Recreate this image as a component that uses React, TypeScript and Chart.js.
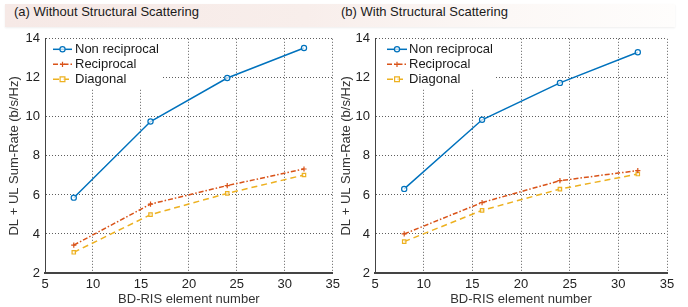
import React, { useEffect, useRef } from "react";
import { Chart, registerables } from "chart.js";
Chart.register(...registerables);

// ---- data ----
const elementNumbers = [8, 16, 24, 32];
const xRange = [5, 35];
const yRange = [2, 14];
const seriesLabels = ["Non reciprocal", "Reciprocal", "Diagonal"];
const panelTitles = ["(a) Without Structural Scattering", "(b) With Structural Scattering"];
const xAxisTitle = "BD-RIS element number";
const yAxisTitle = "DL + UL Sum-Rate (b/s/Hz)";

const nonReciprocalA = [5.86, 9.76, 11.99, 13.53];
const reciprocalA = [3.43, 5.53, 6.48, 7.33];
const diagonalA = [3.06, 4.99, 6.08, 7.02];

const nonReciprocalB = [6.31, 9.85, 11.74, 13.31];
const reciprocalB = [4.0, 5.61, 6.73, 7.25];
const diagonalB = [3.61, 5.21, 6.3, 7.07];

const FONT = "'Liberation Sans', Arial, Helvetica, sans-serif";
const COLORS = ["#0072BD", "#D95319", "#EDB120"];
const GRID = "rgba(40,40,40,0.75)";

const insideLegend = {
  id: "insideLegend",
  afterDraw(chart: any, _args: any, opts: any) {
    const { ctx, chartArea } = chart;
    ctx.save();
    ctx.fillStyle = "#ffffff";
    ctx.fillRect(chartArea.left + 1, chartArea.top + 1, opts.boxWidth, opts.boxHeight);
    chart.data.datasets.forEach((ds: any, i: number) => {
      const y = chartArea.top + 10 + i * 15 + 0.5;
      const lx0 = chartArea.left + opts.lineStart;
      const lx1 = lx0 + opts.lineLen;
      ctx.strokeStyle = ds.borderColor;
      ctx.lineWidth = ds.borderWidth;
      ctx.setLineDash(ds.borderDash || []);
      ctx.beginPath();
      ctx.moveTo(lx0, y);
      ctx.lineTo(lx1, y);
      ctx.stroke();
      ctx.setLineDash([]);
      const mx = (lx0 + lx1) / 2;
      const r = ds.pointRadius;
      ctx.lineWidth = ds.pointBorderWidth;
      ctx.beginPath();
      if (ds.pointStyle === "circle") {
        ctx.fillStyle = ds.pointBackgroundColor;
        ctx.arc(mx, y, r, 0, Math.PI * 2);
        ctx.fill();
        ctx.stroke();
      } else if (ds.pointStyle === "cross") {
        ctx.moveTo(mx - r, y);
        ctx.lineTo(mx + r, y);
        ctx.moveTo(mx, y - r);
        ctx.lineTo(mx, y + r);
        ctx.stroke();
      } else {
        ctx.fillStyle = ds.pointBackgroundColor;
        ctx.rect(mx - r, y - r, 2 * r, 2 * r);
        ctx.fill();
        ctx.stroke();
      }
      ctx.fillStyle = "#1a1a1a";
      ctx.font = `13px ${FONT}`;
      ctx.textBaseline = "middle";
      ctx.textAlign = "left";
      ctx.fillText(ds.label, chartArea.left + opts.textX, y);
    });
    ctx.restore();
  },
};

function makeDatasets(a: number[], b: number[], c: number[]) {
  const pts = (vals: number[]) => elementNumbers.map((x, i) => ({ x, y: vals[i] }));
  return [
    {
      label: seriesLabels[0],
      data: pts(a),
      borderColor: COLORS[0],
      backgroundColor: COLORS[0],
      borderWidth: 1.5,
      borderDash: [],
      pointStyle: "circle",
      pointRadius: 2.6,
      pointBorderWidth: 1.2,
      pointBorderColor: COLORS[0],
      pointBackgroundColor: "rgba(255,255,255,0.7)",
    },
    {
      label: seriesLabels[1],
      data: pts(b),
      borderColor: COLORS[1],
      backgroundColor: COLORS[1],
      borderWidth: 1.5,
      borderDash: [5, 2, 1.5, 2],
      pointStyle: "cross",
      pointRadius: 2.6,
      pointBorderWidth: 1.2,
      pointBorderColor: COLORS[1],
      pointBackgroundColor: COLORS[1],
    },
    {
      label: seriesLabels[2],
      data: pts(c),
      borderColor: COLORS[2],
      backgroundColor: COLORS[2],
      borderWidth: 1.5,
      borderDash: [6, 4],
      pointStyle: "rect",
      pointRadius: 2.4,
      pointBorderWidth: 1.2,
      pointBorderColor: COLORS[2],
      pointBackgroundColor: "rgba(255,255,255,0.7)",
    },
  ];
}

type PanelProps = {
  left: number;
  width: number;
  yAxisWidth: number;
  padRight: number;
  series: number[][];
  legend: { boxWidth: number; boxHeight: number; lineStart: number; lineLen: number; textX: number };
};

function Panel({ left, width, yAxisWidth, padRight, series, legend }: PanelProps) {
  const ref = useRef<HTMLCanvasElement | null>(null);
  useEffect(() => {
    if (!ref.current) return;
    const chart = new Chart(ref.current, {
      type: "line",
      data: { datasets: makeDatasets(series[0], series[1], series[2]) as any },
      plugins: [insideLegend as any],
      options: {
        animation: false,
        responsive: false,
        maintainAspectRatio: false,
        layout: { padding: { top: 8, right: padRight, left: 0, bottom: 0 } },
        plugins: {
          legend: { display: false },
          tooltip: { enabled: false },
          insideLegend: legend,
        } as any,
        scales: {
          x: {
            type: "linear",
            min: xRange[0],
            max: xRange[1],
            ticks: {
              stepSize: 5,
              padding: 4,
              color: "#222",
              font: { family: FONT, size: 13 },
              maxRotation: 0,
            },
            grid: { display: true, color: GRID, lineWidth: 1, drawTicks: false },
            border: { display: true, color: "#444", width: 2, dash: [1, 2] },
            title: {
              display: true,
              text: xAxisTitle,
              color: "#333",
              font: { family: FONT, size: 13 },
              padding: { top: 0, bottom: 0 },
            },
            afterFit: (s: any) => {
              s.height = 34;
            },
          },
          y: {
            type: "linear",
            min: yRange[0],
            max: yRange[1],
            ticks: {
              stepSize: 2,
              padding: 5,
              color: "#222",
              font: { family: FONT, size: 13 },
            },
            grid: { display: true, color: GRID, lineWidth: 1, drawTicks: false },
            border: { display: true, color: "#444", width: 1, dash: [1, 2] },
            title: {
              display: true,
              text: yAxisTitle,
              color: "#333",
              font: { family: FONT, size: 13 },
              padding: { top: 7, bottom: 0 },
            },
            afterFit: (s: any) => {
              s.width = yAxisWidth;
            },
          },
        },
      } as any,
    });
    return () => chart.destroy();
  }, []);
  return (
    <canvas
      ref={ref}
      width={width}
      height={281}
      style={{ position: "absolute", left, top: 26, width, height: 281 }}
    />
  );
}

export default function App() {
  return (
    <div style={{ position: "absolute", left: 0, top: 0, width: 688, height: 307, background: "#fff", overflow: "hidden" }}>
      <div
        style={{
          position: "absolute",
          left: 5,
          top: 4,
          width: 670,
          height: 23,
          background: "linear-gradient(to right, #f6e9e6 0%, #f8eeeb 45%, #fcf8f6 75%, #fefdfc 100%)",
          boxShadow: "0 1px 2px rgba(0,0,0,0.07)",
        }}
      />
      <div style={{ position: "absolute", left: 14, top: 4, height: 23, lineHeight: "23px", font: `13px ${FONT}`, color: "#1a1a1a", whiteSpace: "nowrap" }}>
        {panelTitles[0]}
      </div>
      <div style={{ position: "absolute", left: 341, top: 4, height: 23, lineHeight: "23px", font: `13px ${FONT}`, color: "#1a1a1a", whiteSpace: "nowrap" }}>
        {panelTitles[1]}
      </div>
      <Panel
        left={0}
        width={344}
        yAxisWidth={45}
        padRight={11}
        series={[nonReciprocalA, reciprocalA, diagonalA]}
        legend={{ boxWidth: 116, boxHeight: 49, lineStart: 8, lineLen: 19, textX: 30 }}
      />
      <Panel
        left={332}
        width={356}
        yAxisWidth={43}
        padRight={21}
        series={[nonReciprocalB, reciprocalB, diagonalB]}
        legend={{ boxWidth: 119, boxHeight: 49, lineStart: 12, lineLen: 20, textX: 34 }}
      />
    </div>
  );
}
